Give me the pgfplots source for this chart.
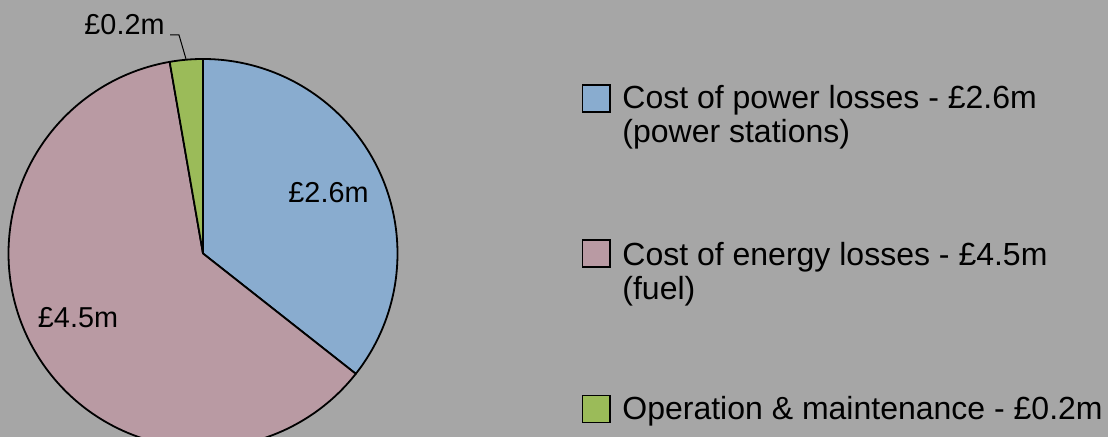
\documentclass[border=0pt]{standalone}
\usepackage{fontspec}
\setmainfont{Liberation Sans}
\usepackage{pgfplots}
\usepackage{pgfplotstable}
\pgfplotsset{compat=1.18}
\definecolor{bg}{RGB}{166,166,166}
\definecolor{pblue}{RGB}{137,172,207}
\definecolor{ppink}{RGB}{185,154,163}
\definecolor{pgreen}{RGB}{155,187,89}
\pgfplotstableread{
id value
1 2.6
2 4.5
3 0.2
}\piedata
\begin{document}
\begin{tikzpicture}
\pgfplotstablegetelem{0}{value}\of\piedata \pgfmathsetmacro\vA{\pgfplotsretval}
\pgfplotstablegetelem{1}{value}\of\piedata \pgfmathsetmacro\vB{\pgfplotsretval}
\pgfplotstablegetelem{2}{value}\of\piedata \pgfmathsetmacro\vC{\pgfplotsretval}
\pgfmathsetmacro\tot{\vA+\vB+\vC}
\pgfmathsetmacro\aA{360*\vA/\tot}
\pgfmathsetmacro\aB{360*(\vA+\vB)/\tot}
\begin{axis}[
  width=554pt, height=218.5pt, scale only axis,
  xmin=0, xmax=1108, ymin=0, ymax=437,
  hide axis, clip=true, clip bounding box=upper bound,
]
\fill[bg] (axis cs:0,0) rectangle (axis cs:1108,437);
\addplot[draw=black, line width=0.9pt, line join=round, fill=pblue, domain=0:\aA, samples=120]
  ({203+194.5*sin(x)},{183.5+194.5*cos(x)}) -- (axis cs:203,183.5) -- cycle;
\addplot[draw=black, line width=0.9pt, line join=round, fill=ppink, domain=\aA:\aB, samples=200]
  ({203+194.5*sin(x)},{183.5+194.5*cos(x)}) -- (axis cs:203,183.5) -- cycle;
\addplot[draw=black, line width=0.9pt, line join=round, fill=pgreen, domain=\aB:360, samples=20]
  ({203+194.5*sin(x)},{183.5+194.5*cos(x)}) -- (axis cs:203,183.5) -- cycle;
% data labels
\node[anchor=base, inner sep=0pt, font=\fontsize{14.4}{16}\selectfont] at (axis cs:328.5,234) {£2.6m};
\node[anchor=base, inner sep=0pt, font=\fontsize{14.4}{16}\selectfont] at (axis cs:78,109) {£4.5m};
\node[anchor=base, inner sep=0pt, font=\fontsize{14.4}{16}\selectfont] at (axis cs:124.5,402) {£0.2m};
\draw[black, line width=0.5pt] (axis cs:170,402) -- (axis cs:179,402) -- (axis cs:186,378);
% legend
\draw[black, line width=0.9pt, fill=pblue] (axis cs:582.5,325) rectangle (axis cs:610,352);
\draw[black, line width=0.9pt, fill=ppink] (axis cs:582.5,170) rectangle (axis cs:610,197);
\draw[black, line width=0.9pt, fill=pgreen] (axis cs:582.5,14.5) rectangle (axis cs:610,41.5);
\begin{scope}[every node/.style={anchor=base west, inner sep=0pt, font=\fontsize{16}{17.5}\selectfont}]
\node at (axis cs:622,328) {Cost of power losses - £2.6m};
\node at (axis cs:622,294) {(power stations)};
\node at (axis cs:622,171) {Cost of energy losses - £4.5m};
\node at (axis cs:622,137) {(fuel)};
\node at (axis cs:622,17) {Operation \& maintenance - £0.2m};
\end{scope}
\end{axis}
\end{tikzpicture}
\end{document}
